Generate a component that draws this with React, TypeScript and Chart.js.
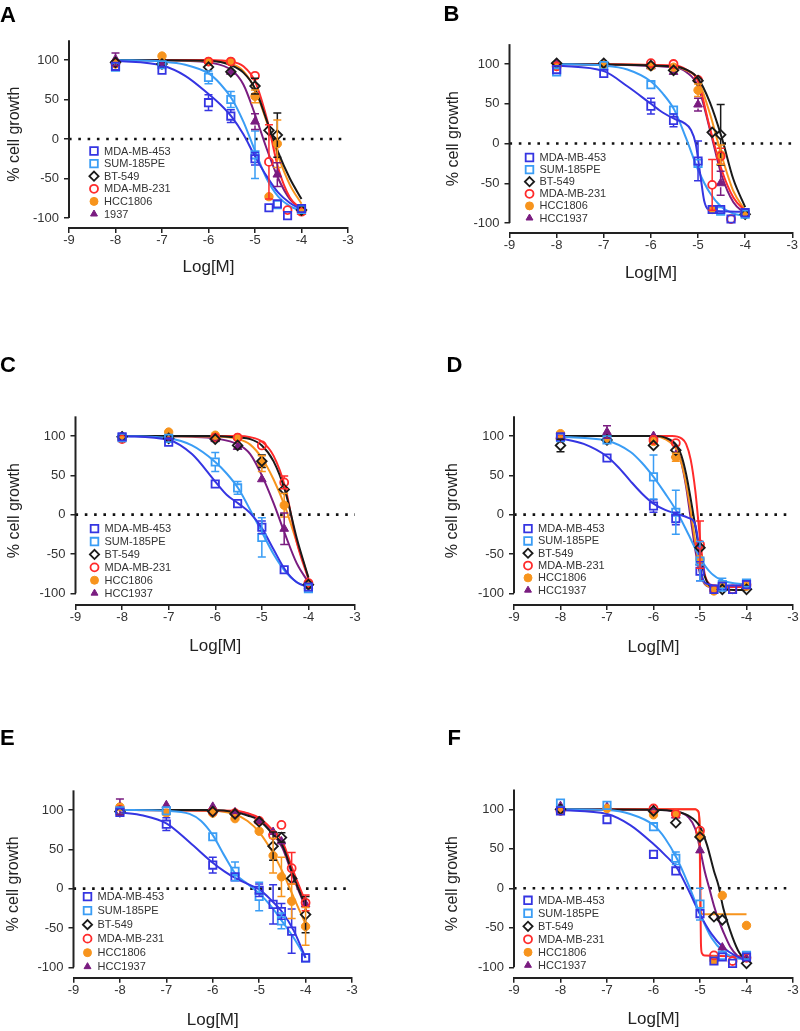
import React, { useEffect, useRef } from "react";
import { Chart, registerables } from "chart.js";

Chart.register(...registerables);

const FONT = "'Liberation Sans', Arial, Helvetica, sans-serif";

// concentrations (log M) where the measured points sit
const CONC = [-8, -7, -6, -5.52, -5, -4.7, -4.52, -4.3, -4];
const X_TICKS = [-9, -8, -7, -6, -5, -4, -3];
const Y_TICKS = [-100, -50, 0, 50, 100];
const Y_TOP = 125;

const CELL_LINES = ["MDA-MB-453", "SUM-185PE", "BT-549", "MDA-MB-231", "HCC1806", "HCC1937"];
const CELL_LINES_A = ["MDA-MB-453", "SUM-185PE", "BT-549", "MDA-MB-231", "HCC1806", "1937"];
const COLORS = ["#3535e2", "#3a9df5", "#1a1a1a", "#ff2b2b", "#f7941d", "#7a1c80"];
const SHAPES = ["rect", "rect", "rectRot", "circle", "circle", "triangle"];
const FILLED = [false, false, false, false, true, true];
const RADII = [5.2, 5.2, 4.8, 4, 4.2, 5];

type N = number | null;

// ---------- Panel A ----------
const PTS_A: N[][] = [
  [92, 87, 46, 29, -25, -87, -82, -97, -88],
  [91, 94, 78, 50, -20, null, -83, null, -89],
  [97, 95, 91, 85, 67, 11, 5, null, -90],
  [96, null, 98, 98, 80, -29, null, -90, -92],
  [95, 105, 98, 98, 54, -73, -6, null, -91],
  [101, 96, null, 85, 22, null, -45, null, -92],
];
const ERR_A: number[][] = [
  [0, 0, 10, 8, 8, 0, 0, 0, 0],
  [0, 0, 8, 10, 30, 0, 0, 0, 0],
  [0, 0, 0, 0, 10, 0, 28, 0, 0],
  [0, 0, 0, 0, 0, 47, 0, 0, 0],
  [0, 0, 0, 0, 8, 0, 30, 0, 0],
  [8, 0, 0, 0, 10, 0, 15, 0, 0],
];
const FIT_A: number[][][] = [
  [[-8, 99], [-7, 93], [-6.5, 80], [-6, 57], [-5.75, 44], [-5.5, 28], [-5.25, 6], [-5, -22], [-4.75, -47], [-4.5, -68], [-4.25, -81], [-4, -89]],
  [[-8, 100], [-7, 98], [-6.5, 94], [-6, 83], [-5.75, 70], [-5.5, 51], [-5.25, 22], [-5, -15], [-4.75, -50], [-4.5, -73], [-4.25, -85], [-4, -91]],
  [[-8, 100], [-6, 99], [-5.5, 93], [-5.25, 84], [-5, 64], [-4.75, 24], [-4.5, -17], [-4.25, -50], [-4, -76]],
  [[-8, 100], [-6, 100], [-5.5, 98], [-5.25, 92], [-5, 73], [-4.75, 27], [-4.5, -37], [-4.25, -74], [-4, -89]],
  [[-8, 100], [-6, 99], [-5.5, 95], [-5.25, 86], [-5, 63], [-4.75, 22], [-4.5, -22], [-4.25, -58], [-4, -82]],
  [[-8, 100], [-6.5, 99], [-6, 97], [-5.5, 87], [-5.25, 69], [-5, 31], [-4.75, -12], [-4.5, -50], [-4.25, -76], [-4, -89]],
];

// ---------- Panel B ----------
const PTS_B: N[][] = [
  [93, 88, 47, 29, -22, -83, -83, -95, -87],
  [90, 98, 74, 42, -25, null, -85, null, -89],
  [101, 101, 98, 92, 79, 14, 11, null, -89],
  [97, null, 101, 100, 80, -52, -16, -95, -88],
  [97, 99, 97, 96, 67, -83, -14, null, -89],
  [101, 100, 97, 90, 49, null, -50, null, -89],
];
const ERR_B: number[][] = [
  [0, 0, 10, 8, 25, 0, 0, 0, 0],
  [0, 0, 0, 0, 0, 0, 0, 0, 0],
  [0, 0, 0, 0, 0, 0, 38, 0, 0],
  [0, 0, 0, 0, 0, 32, 10, 0, 0],
  [0, 0, 0, 0, 8, 0, 12, 0, 0],
  [0, 0, 0, 0, 8, 0, 15, 0, 0],
];
const FIT_B: number[][][] = [
  [[-8, 98], [-7, 91], [-6.5, 72], [-6, 50], [-5.75, 39], [-5.5, 31], [-5.3, 26], [-5.15, 17], [-5.05, 0], [-4.95, -40], [-4.87, -72], [-4.78, -83], [-4.6, -85], [-4, -86]],
  [[-8, 100], [-7, 98], [-6.5, 93], [-6, 78], [-5.75, 63], [-5.5, 42], [-5.25, 6], [-5, -33], [-4.75, -62], [-4.5, -80], [-4.25, -88], [-4, -91]],
  [[-8, 100], [-5.5, 97], [-5.25, 93], [-5, 82], [-4.75, 52], [-4.5, 8], [-4.25, -45], [-4, -80]],
  [[-8, 100], [-5.5, 98], [-5.25, 93], [-5, 78], [-4.75, 20], [-4.5, -33], [-4.25, -68], [-4, -85]],
  [[-8, 100], [-5.5, 97], [-5.25, 92], [-5, 80], [-4.75, 38], [-4.5, -15], [-4.25, -60], [-4, -84]],
  [[-8, 100], [-5.5, 96], [-5.25, 90], [-5, 72], [-4.75, 18], [-4.5, -40], [-4.25, -74], [-4, -88]],
];

// ---------- Panel C ----------
const PTS_C: N[][] = [
  [99, 92, 39, 14, -16, null, -70, null, -92],
  [98, 97, 67, 34, -29, null, null, null, -94],
  [99, 97, 96, 88, 68, null, 32, null, -89],
  [96, null, 98, 98, 88, null, 41, null, -87],
  [98, 105, 101, 98, 65, null, 12, null, -89],
  [99, 97, 96, 86, 45, null, -18, null, -91],
];
const ERR_C: number[][] = [
  [0, 0, 0, 0, 8, 0, 0, 0, 0],
  [0, 0, 12, 8, 25, 0, 0, 0, 0],
  [0, 0, 0, 0, 8, 0, 0, 0, 0],
  [0, 0, 0, 0, 0, 0, 8, 0, 0],
  [0, 0, 0, 0, 10, 0, 15, 0, 0],
  [0, 0, 0, 0, 0, 0, 20, 0, 0],
];
const FIT_C: number[][][] = [
  [[-8, 100], [-7, 95], [-6.5, 77], [-6, 42], [-5.75, 25], [-5.5, 14], [-5.25, 2], [-5, -17], [-4.75, -44], [-4.5, -70], [-4.25, -86], [-4, -92]],
  [[-8, 100], [-7, 97], [-6.5, 88], [-6, 67], [-5.75, 52], [-5.5, 33], [-5.25, 6], [-5, -22], [-4.75, -50], [-4.5, -72], [-4.25, -86], [-4, -92]],
  [[-8, 100], [-6, 100], [-5.5, 98], [-5.25, 96], [-5, 88], [-4.75, 68], [-4.5, 30], [-4.25, -30], [-4, -80]],
  [[-8, 100], [-5.5, 100], [-5.25, 98.5], [-5, 93], [-4.75, 75], [-4.5, 35], [-4.25, -35], [-4, -82]],
  [[-8, 100], [-6, 99.5], [-5.5, 96], [-5.25, 89], [-5, 72], [-4.75, 45], [-4.5, 10], [-4.25, -35], [-4, -80]],
  [[-8, 100], [-6.5, 99], [-6, 97], [-5.5, 89], [-5.25, 77], [-5, 50], [-4.75, 15], [-4.5, -25], [-4.25, -62], [-4, -86]],
];

// ---------- Panel D ----------
const PTS_D: N[][] = [
  [99, 72, 11, -5, -72, -95, -91, -95, -89],
  [98, 95, 48, 3, -59, null, -89, null, -87],
  [88, 95, 88, 82, -42, null, -95, null, -95],
  [97, null, 95, 91, -38, -95, null, -95, -89],
  [103, 95, 93, 73, -57, -97, -89, null, -91],
  [100, 105, 100, 76, -61, null, null, null, -91],
];
const ERR_D: number[][] = [
  [0, 5, 8, 8, 12, 0, 0, 0, 0],
  [0, 0, 28, 28, 25, 0, 8, 0, 0],
  [8, 0, 0, 0, 0, 0, 0, 0, 0],
  [0, 0, 0, 0, 30, 0, 0, 0, 0],
  [0, 0, 0, 5, 0, 0, 0, 0, 0],
  [0, 8, 5, 0, 0, 0, 0, 0, 0],
];
const FIT_D: number[][][] = [
  [[-8, 97], [-7.5, 90], [-7, 74], [-6.75, 60], [-6.5, 43], [-6.25, 27], [-6, 14], [-5.75, 6], [-5.5, 1], [-5.25, -4], [-5.12, -10], [-5.05, -30], [-5, -62], [-4.95, -80], [-4.85, -88], [-4.5, -90], [-4, -90]],
  [[-8, 99], [-7, 94], [-6.5, 80], [-6.25, 66], [-6, 48], [-5.75, 27], [-5.5, 4], [-5.25, -25], [-5, -55], [-4.75, -75], [-4.5, -84], [-4, -89]],
  [[-8, 100], [-6, 100], [-5.75, 98], [-5.5, 88], [-5.4, 75], [-5.3, 52], [-5.2, 20], [-5.1, -15], [-5, -50], [-4.9, -78], [-4.8, -90], [-4.6, -95], [-4, -96]],
  [[-8, 100], [-5.6, 100], [-5.4, 97], [-5.3, 90], [-5.2, 70], [-5.1, 30], [-5, -30], [-4.9, -75], [-4.8, -88], [-4.6, -92], [-4, -92]],
  [[-8, 100], [-6, 100], [-5.75, 96], [-5.5, 82], [-5.4, 66], [-5.3, 40], [-5.2, 5], [-5.1, -35], [-5, -70], [-4.9, -87], [-4.75, -92], [-4, -92]],
  [[-8, 100], [-6, 100], [-5.75, 97], [-5.5, 84], [-5.4, 66], [-5.3, 36], [-5.2, -5], [-5.1, -45], [-5, -75], [-4.9, -88], [-4.75, -92], [-4, -92]],
];

// ---------- Panel E ----------
const PTS_E: N[][] = [
  [97, 82, 30, 15, -2, -20, -29, -54, -88],
  [99, 99, 66, 22, -10, null, -41, null, -88],
  [98, null, 98, 95, 85, 54, 65, 13, -33],
  [100, null, 98, 96, 86, 68, 81, 26, -18],
  [104, 96, 96, 89, 73, 42, 15, -16, -48],
  [104, 106, 104, 97, 86, 72, 60, null, -20],
];
const ERR_E: number[][] = [
  [0, 8, 10, 0, 8, 25, 10, 28, 0],
  [0, 0, 0, 12, 18, 0, 10, 0, 0],
  [0, 0, 0, 0, 0, 18, 6, 0, 23],
  [0, 0, 0, 0, 0, 0, 0, 20, 10],
  [0, 0, 0, 0, 0, 22, 25, 22, 24],
  [10, 0, 0, 0, 0, 0, 0, 0, 0],
];
const FIT_E: number[][][] = [
  [[-8, 97], [-7.5, 93], [-7, 83], [-6.5, 59], [-6, 33], [-5.75, 22], [-5.5, 13], [-5.25, 6], [-5, -1], [-4.75, -14], [-4.5, -30], [-4.25, -54], [-4, -88]],
  [[-8, 100], [-7, 99], [-6.5, 95], [-6.25, 86], [-6, 68], [-5.75, 42], [-5.5, 18], [-5.25, 6], [-5, -6], [-4.75, -22], [-4.5, -42], [-4.25, -63], [-4, -88]],
  [[-8, 100], [-6, 100], [-5.5, 97], [-5.25, 93], [-5, 87], [-4.75, 72], [-4.5, 55], [-4.25, 14], [-4, -22]],
  [[-8, 100], [-5.5, 99], [-5.25, 96], [-5, 90], [-4.75, 77], [-4.5, 60], [-4.25, 20], [-4, -17]],
  [[-8, 100], [-6, 99], [-5.5, 94], [-5.25, 86], [-5, 72], [-4.75, 50], [-4.5, 22], [-4.25, -12], [-4, -45]],
  [[-8, 100], [-5.5, 98], [-5, 88], [-4.75, 73], [-4.5, 52], [-4.25, 12], [-4, -24]],
];

// ---------- Panel F ----------
const PTS_F: N[][] = [
  [98, 87, 43, 22, -32, -92, -87, -95, -87],
  [108, 105, 78, 38, -20, null, -85, null, -85],
  [100, null, 98, 83, 65, -36, -40, null, -95],
  [98, null, 101, 94, 73, -85, null, -92, -88],
  [98, 101, 93, 94, 67, -91, -9, null, -47],
  [104, 103, 99, 92, 48, null, -75, null, -89],
];
const ERR_F: number[][] = [
  [0, 0, 0, 0, 0, 0, 0, 0, 0],
  [4, 0, 0, 8, 20, 0, 0, 0, 0],
  [0, 0, 0, 0, 0, 0, 0, 0, 0],
  [0, 0, 0, 0, 0, 0, 0, 0, 0],
  [0, 0, 0, 0, 0, 0, 0, 0, 0],
  [0, 0, 0, 0, 0, 0, 0, 0, 0],
];
const FIT_F: number[][][] = [
  [[-8, 99], [-7, 94], [-6.5, 80], [-6, 56], [-5.75, 42], [-5.5, 26], [-5.25, -2], [-5, -33], [-4.75, -58], [-4.5, -75], [-4.25, -85], [-4, -91]],
  [[-8, 100], [-7, 99], [-6.5, 94], [-6, 80], [-5.75, 63], [-5.5, 38], [-5.25, 5], [-5, -32], [-4.75, -63], [-4.5, -80], [-4.25, -88], [-4, -90]],
  [[-8, 100], [-6, 99.5], [-5.5, 97], [-5.25, 92], [-5, 78], [-4.85, 55], [-4.7, 22], [-4.6, 3], [-4.5, -25], [-4.3, -62], [-4.15, -82], [-4, -92]],
  [[-8, 100], [-5.1, 100], [-5.04, 98], [-5.01, 85], [-5, 40], [-4.99, -20], [-4.98, -70], [-4.96, -82], [-4.9, -85], [-4, -86]],
  [[-8, 100], [-5.1, 100], [-5.04, 97], [-5.01, 80], [-5, 20], [-4.99, -25], [-4.97, -32], [-4.92, -33], [-4, -33]],
  [[-8, 100], [-6, 99.5], [-5.5, 97], [-5.25, 90], [-5.1, 75], [-5, 50], [-4.9, 22], [-4.8, 0], [-4.7, -22], [-4.6, -40], [-4.5, -55], [-4.35, -74], [-4.2, -85], [-4, -91]],
];

// ---------- layout of the six panels (page pixels) ----------
type Panel = {
  letter: string; letterX: number; letterY: number;
  cellX: number; cellY: number; cellH: number;
  L: number; R: number; y100: number; yN100: number; Bx: number;
  yTitleX: number; xTitleY: number;
  legDx: number; legDy: number; legGap: number;
  labels: string[]; pts: N[][]; errs: number[][]; fits: number[][][];
};

const PANELS: Panel[] = [
  { letter: "A", letterX: 0, letterY: 4, cellX: 0, cellY: 0, cellH: 340, L: 69, R: 348, y100: 60, yN100: 218, Bx: 228, yTitleX: 14.5, xTitleY: 267, legDx: 25, legDy: 12, legGap: 12.6, labels: CELL_LINES_A, pts: PTS_A, errs: ERR_A, fits: FIT_A },
  { letter: "B", letterX: 443.5, letterY: 3, cellX: 400, cellY: 0, cellH: 340, L: 509.5, R: 792.3, y100: 64, yN100: 223, Bx: 233, yTitleX: 454, xTitleY: 273, legDx: 20, legDy: 14, legGap: 12.1, labels: CELL_LINES, pts: PTS_B, errs: ERR_B, fits: FIT_B },
  { letter: "C", letterX: 0, letterY: 354, cellX: 0, cellY: 340, cellH: 340, L: 75.5, R: 355, y100: 436, yN100: 593.3, Bx: 605, yTitleX: 14.5, xTitleY: 646, legDx: 19, legDy: 14, legGap: 12.9, labels: CELL_LINES, pts: PTS_C, errs: ERR_C, fits: FIT_C },
  { letter: "D", letterX: 446.5, letterY: 354, cellX: 400, cellY: 340, cellH: 340, L: 514, R: 793, y100: 436, yN100: 593.3, Bx: 605, yTitleX: 452.5, xTitleY: 647.5, legDx: 14, legDy: 14, legGap: 12.3, labels: CELL_LINES, pts: PTS_D, errs: ERR_D, fits: FIT_D },
  { letter: "E", letterX: 0, letterY: 726.5, cellX: 0, cellY: 680, cellH: 351, L: 73.5, R: 352, y100: 810, yN100: 967.3, Bx: 977.7, yTitleX: 13.5, xTitleY: 1020.5, legDx: 14, legDy: 8, legGap: 14, labels: CELL_LINES, pts: PTS_E, errs: ERR_E, fits: FIT_E },
  { letter: "F", letterX: 447.5, letterY: 726.5, cellX: 400, cellY: 680, cellH: 351, L: 514, R: 793, y100: 809.3, yN100: 967.3, Bx: 977.7, yTitleX: 452.5, xTitleY: 1019, legDx: 14, legDy: 12, legGap: 13, labels: CELL_LINES, pts: PTS_F, errs: ERR_F, fits: FIT_F },
];

function drawMarker(ctx: CanvasRenderingContext2D, shape: string, x: number, y: number, r: number, color: string, filled: boolean) {
  ctx.save();
  ctx.beginPath();
  if (shape === "rect") {
    const h = r * Math.SQRT1_2;
    ctx.rect(x - h, y - h, 2 * h, 2 * h);
  } else if (shape === "rectRot") {
    ctx.moveTo(x - r, y); ctx.lineTo(x, y - r); ctx.lineTo(x + r, y); ctx.lineTo(x, y + r); ctx.closePath();
  } else if (shape === "circle") {
    ctx.arc(x, y, r, 0, Math.PI * 2);
  } else {
    for (let k = 0; k < 3; k++) {
      const a = (k * 2 * Math.PI) / 3;
      const px = x + Math.sin(a) * r;
      const py = y - Math.cos(a) * r;
      if (k === 0) ctx.moveTo(px, py); else ctx.lineTo(px, py);
    }
    ctx.closePath();
  }
  if (filled) { ctx.fillStyle = color; ctx.fill(); ctx.lineWidth = 1; }
  else ctx.lineWidth = 1.8;
  ctx.strokeStyle = color;
  ctx.stroke();
  ctx.restore();
}

function buildConfig(p: Panel): any {
  const ppu = (p.yN100 - p.y100) / 200;
  const y0 = p.y100 + 100 * ppu;
  const T = y0 - Y_TOP * ppu;
  const yMin = -100 - (p.Bx - p.yN100) / ppu;
  const yTitleSize = 16;
  const xTitleSize = 17;
  const padLeft = p.yTitleX - p.cellX - (yTitleSize * 1.2) / 2;
  const yW = p.L - p.cellX - padLeft;
  const padTop = T - p.cellY;
  const padRight = p.cellX + 400 - p.R;
  const xH = p.xTitleY + (xTitleSize * 1.2) / 2 - p.Bx;
  const padBottom = Math.max(0, p.cellY + p.cellH - p.Bx - xH);

  const pointSets = p.pts.map((row, s) => ({
    label: p.labels[s],
    data: row
      .map((v, i) => (v === null ? null : { x: CONC[i], y: v, e: p.errs[s][i] }))
      .filter((d) => d !== null),
    showLine: false,
    pointStyle: SHAPES[s],
    pointRadius: RADII[s],
    pointHoverRadius: RADII[s],
    pointBorderWidth: FILLED[s] ? 1 : 1.8,
    pointBorderColor: COLORS[s],
    pointBackgroundColor: FILLED[s] ? COLORS[s] : "rgba(0,0,0,0)",
    borderColor: COLORS[s],
    backgroundColor: FILLED[s] ? COLORS[s] : "rgba(0,0,0,0)",
    isPoints: true,
  }));
  const fitSets = p.fits.map((curve, s) => ({
    label: p.labels[s] + " fit",
    data: curve.map(([x, y]) => ({ x, y })),
    showLine: true,
    pointRadius: 0,
    pointHoverRadius: 0,
    borderColor: COLORS[s],
    borderWidth: 2,
    cubicInterpolationMode: "monotone",
    fill: false,
  }));
  const zeroSet = {
    label: "zero",
    data: [{ x: -9, y: 0 }, { x: -3, y: 0 }],
    showLine: true,
    pointRadius: 0,
    borderColor: "#111",
    borderWidth: 2.6,
    borderDash: [2.6, 6.7],
    borderCapStyle: "butt",
    fill: false,
  };

  const errPlugin = {
    id: "errbars",
    afterDatasetsDraw(chart: any) {
      const ctx = chart.ctx;
      const xs = chart.scales.x;
      const ys = chart.scales.y;
      chart.data.datasets.forEach((ds: any) => {
        if (!ds.isPoints) return;
        ctx.save();
        ctx.strokeStyle = ds.borderColor;
        ctx.lineWidth = 1.5;
        const r = ds.pointRadius * 0.8;
        ds.data.forEach((d: any) => {
          if (!d.e) return;
          const px = xs.getPixelForValue(d.x);
          const py = ys.getPixelForValue(d.y);
          const top = ys.getPixelForValue(d.y + d.e);
          const bot = ys.getPixelForValue(d.y - d.e);
          ctx.beginPath();
          if (py - top > r) {
            ctx.moveTo(px, py - r); ctx.lineTo(px, top);
            ctx.moveTo(px - 4, top); ctx.lineTo(px + 4, top);
          }
          if (bot - py > r) {
            ctx.moveTo(px, py + r); ctx.lineTo(px, bot);
            ctx.moveTo(px - 4, bot); ctx.lineTo(px + 4, bot);
          }
          ctx.stroke();
        });
        ctx.restore();
      });
    },
  };

  const axisPlugin = {
    id: "yaxisline",
    afterDraw(chart: any) {
      const ctx = chart.ctx;
      const ys = chart.scales.y;
      const x = chart.chartArea.left;
      ctx.save();
      ctx.strokeStyle = "#222";
      ctx.lineWidth = 2;
      ctx.beginPath();
      ctx.moveTo(x, ys.getPixelForValue(Y_TOP));
      ctx.lineTo(x, ys.getPixelForValue(-100));
      ctx.stroke();
      ctx.restore();
    },
  };

  const legendPlugin = {
    id: "innerLegend",
    afterDraw(chart: any) {
      const ctx = chart.ctx;
      const ys = chart.scales.y;
      const mx = chart.chartArea.left + p.legDx;
      const baseY = ys.getPixelForValue(0) + p.legDy;
      ctx.save();
      ctx.font = `11px ${FONT}`;
      ctx.fillStyle = "#333";
      ctx.textBaseline = "middle";
      ctx.textAlign = "left";
      p.labels.forEach((lab, s) => {
        const my = baseY + s * p.legGap;
        drawMarker(ctx, SHAPES[s], mx, my, s < 2 ? 5.4 : s === 2 ? 4.6 : 4, COLORS[s], FILLED[s]);
        ctx.fillStyle = "#333";
        ctx.fillText(lab, mx + 10, my + 0.5);
      });
      ctx.restore();
    },
  };

  return {
    type: "scatter",
    data: { datasets: [...pointSets, ...fitSets, zeroSet] },
    plugins: [errPlugin, axisPlugin, legendPlugin],
    options: {
      responsive: false,
      animation: false,
      devicePixelRatio: 1,
      layout: { padding: { left: padLeft, top: padTop, right: padRight, bottom: padBottom } },
      plugins: { legend: { display: false }, tooltip: { enabled: false }, title: { display: false } },
      scales: {
        x: {
          type: "linear",
          position: "bottom",
          min: -9,
          max: -3,
          afterBuildTicks: (s: any) => { s.ticks = X_TICKS.map((v) => ({ value: v })); },
          afterFit: (s: any) => { s.height = xH; },
          ticks: { font: { family: FONT, size: 13 }, color: "#333", padding: 0, maxRotation: 0, autoSkip: false },
          grid: { display: true, drawOnChartArea: false, drawTicks: true, tickLength: 5, color: "#222", lineWidth: 1.5 },
          border: { display: true, color: "#222", width: 2 },
          title: { display: true, text: "Log[M]", font: { family: FONT, size: xTitleSize }, color: "#222", padding: 0 },
        },
        y: {
          type: "linear",
          position: "left",
          min: yMin,
          max: Y_TOP,
          afterBuildTicks: (s: any) => { s.ticks = Y_TICKS.map((v) => ({ value: v })); },
          afterFit: (s: any) => { s.width = yW; },
          ticks: { font: { family: FONT, size: 13 }, color: "#333", padding: 5, autoSkip: false },
          grid: { display: true, drawOnChartArea: false, drawTicks: true, tickLength: 5, color: "#222", lineWidth: 1.5 },
          border: { display: false },
          title: { display: true, text: "% cell growth", font: { family: FONT, size: yTitleSize }, color: "#222", padding: 0 },
        },
      },
    },
  };
}

function PanelChart({ p }: { p: Panel }) {
  const ref = useRef<HTMLCanvasElement | null>(null);
  useEffect(() => {
    if (!ref.current) return;
    const chart = new Chart(ref.current, buildConfig(p));
    return () => chart.destroy();
  }, [p]);
  return (
    <canvas
      ref={ref}
      width={400}
      height={p.cellH}
      style={{ position: "absolute", left: p.cellX, top: p.cellY, width: 400, height: p.cellH }}
    />
  );
}

export default function App() {
  return (
    <div style={{ position: "absolute", left: 0, top: 0, width: 800, height: 1031, background: "#fff", overflow: "hidden" }}>
      {PANELS.map((p) => (
        <PanelChart key={p.letter} p={p} />
      ))}
      {PANELS.map((p) => (
        <div
          key={"l" + p.letter}
          style={{ position: "absolute", left: p.letterX, top: p.letterY, font: `bold 22px ${FONT}`, lineHeight: "22px", color: "#000" }}
        >
          {p.letter}
        </div>
      ))}
    </div>
  );
}
